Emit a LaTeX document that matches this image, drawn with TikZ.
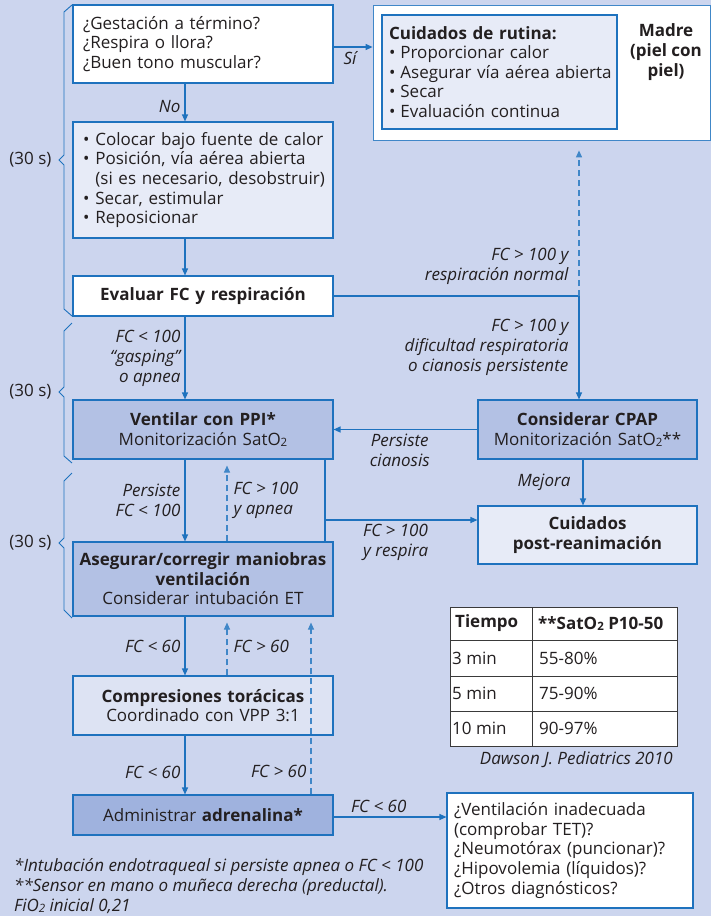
\documentclass[tikz,border=0pt]{standalone}
\usepackage{fontspec}
\setmainfont{Open Sans}
\usetikzlibrary{calc}
\usetikzlibrary{arrows.meta}

\definecolor{fondo}{HTML}{CCD5EE}
\definecolor{azul}{HTML}{1E72BE}
\definecolor{claro}{HTML}{E7EBF7}
\definecolor{claroB}{HTML}{DDE3F3}
\definecolor{medio}{HTML}{B3C1E4}
\definecolor{oscuro}{HTML}{9FB2DE}
\definecolor{texto}{HTML}{231F20}
\definecolor{gris}{HTML}{3A3A3A}

\newcommand{\bajo}[1]{\raisebox{-0.15ex}{\fontsize{11.5}{11.5}\selectfont #1}}
\newcommand{\punto}{\textbullet\hspace{6pt}}

\begin{document}
\begin{tikzpicture}[
    x=1pt, y=-1pt,
    font=\fontsize{17}{19.6}\selectfont, text=texto,
    % --- estilos ---
    caja/.style = {draw=azul, line width=1.1pt, fill=#1, inner xsep=10pt, inner ysep=0pt, text width=240pt, align=center}, % cajas del algoritmo
    flecha/.style = {color=azul, line width=1.2pt, -{Triangle[length=7pt,width=6pt]}}, % conector con punta
    retorno/.style = {flecha, color=azul!85, line width=1.1pt, dash pattern=on 6pt off 4pt, shorten >=6pt}, % conector discontinuo
    linea/.style = {color=azul, line width=1.2pt},                                      % conector sin punta
    etiq/.style = {font=\fontsize{17}{20}\selectfont\itshape, text=texto, align=right, inner sep=4pt}, % rotulos de conectores
    llave/.style = {color=azul, line width=0.9pt},                                      % llaves de (30 s)
    tabla/.style = {draw=gris, line width=1pt}
    ]

    % --- Fondo y margenes ---
    \useasboundingbox (0,0) rectangle (711,916);
    \fill[fondo] (0,0) rectangle (711,916);

    % --- Ejes verticales de los conectores ---
    \coordinate (ejeP) at (185,0);   % eje principal
    \coordinate (ejeR) at (227,0);   % retorno corto
    \coordinate (ejeL) at (311,0);   % retorno largo
    \coordinate (ejeV) at (325,0);   % salida de ventilar
    \coordinate (ejeD) at (579,0);   % eje derecho
    \coordinate (ejeC) at (583,0);   % salida de CPAP

    % --- Columna izquierda ---
    \node[caja=white, minimum height=78pt, align=left] (gest) at (203,44)
        {¿Gestación a término?\\¿Respira o llora?\\¿Buen tono muscular?};
    \node[caja=claro, minimum height=116pt, align=left] (colocar) at (203,180)
        {\mbox{\punto Colocar bajo fuente de calor}\\
         \mbox{\punto Posición, vía aérea abierta}\\
         \mbox{\phantom{\punto}(si es necesario, desobstruir)}\\
         \punto Secar, estimular\\
         \punto Reposicionar};
    \node[caja=white, minimum height=40pt] (evaluar) at (203,296) {\textbf{Evaluar FC y respiración}};
    \node[caja=medio, minimum height=59pt] (ventilar) at (203,429.5)
        {\textbf{Ventilar con PPI*}\\Monitorización SatO\bajo{2}};
    \node[caja=medio, minimum height=74pt, text width=256pt, inner xsep=2pt] (asegurar) at (203,579)
        {\textbf{Asegurar/corregir maniobras}\\\textbf{ventilación}\\Considerar intubación ET};
    \node[caja=claroB, minimum height=59pt] (compresiones) at (203,705.5)
        {\textbf{Compresiones torácicas}\\Coordinado con VPP 3:1};
    \node[caja=oscuro, minimum height=40pt] (adrenalina) at (203,815) {Administrar \textbf{adrenalina*}};

    % --- Columna derecha ---
    \node[draw=azul!85, line width=0.8pt, fill=white, minimum width=337pt, minimum height=135pt] (madre) at (541.5,72.5) {};
    \node[caja=claro, text width=221pt, inner xsep=7pt, minimum height=114pt, align=left] (rutina) at (499.5,72)
        {\textbf{Cuidados de rutina:}\\
         \mbox{\textbullet\hspace{5pt}Proporcionar calor}\\
         \mbox{\textbullet\hspace{5pt}Asegurar vía aérea abierta}\\
         \mbox{\textbullet\hspace{5pt}Secar}\\
         \mbox{\textbullet\hspace{5pt}Evaluación continua}};
    \node[align=center] (madretxt) at (666,52) {\textbf{Madre}\\\textbf{(piel con}\\\textbf{piel)}};
    \node[caja=medio, text width=213pt, inner xsep=3pt, minimum height=59pt] (cpap) at (587.5,429.5)
        {\textbf{Considerar CPAP}\\Monitorización SatO\bajo{2}**};
    \node[caja=claro, text width=199pt, minimum height=58pt] (post) at (587.5,535)
        {\textbf{Cuidados}\\\textbf{post-reanimación}};
    \node[caja=white, text width=232pt, inner xsep=7pt, minimum height=115pt, align=left] (preg) at (570,850.5)
        {¿Ventilación inadecuada\\(comprobar TET)?\\¿Neumotórax (puncionar)?\\¿Hipovolemia (líquidos)?\\¿Otros diagnósticos?};

    % --- Tabla de SatO2 ---
    \draw[tabla, fill=white] (450,607) rectangle (677,746);
    \draw[tabla] (532,607) -- (532,746);
    \foreach \y in {640,676,711}
        \draw[tabla] (450,\y) -- (677,\y);
    \node[anchor=west, inner sep=0pt] (t00) at (455,623.5) {\textbf{Tiempo}};
    \node[anchor=west, inner sep=0pt] (t01) at (538,623.5) {\textbf{**SatO\bajo{2} P10-50}};
    \foreach \t/\v/\y [count=\i] in {3 min/55-80\%/658, 5 min/75-90\%/693.5, 10 min/90-97\%/728.5} {
        \node[anchor=west, inner sep=0pt] (t\i0) at (452,\y) {\t};
        \node[anchor=west, inner sep=0pt] (t\i1) at (539,\y) {\v};
    }
    \node[etiq, anchor=east] (fuente) at (677,760) {Dawson J. Pediatrics 2010};

    % --- Llaves de (30 s) ---
    \draw[llave] (72,5) -- (64,12) -- (64,155) -- (59,160) -- (64,165) -- (64,309) -- (72,316);
    \draw[llave] (72,323) -- (64,331) -- (64,387) -- (59,392) -- (64,397) -- (64,456) -- (72,463);
    \draw[llave] (72,473) -- (64,481) -- (64,538) -- (59,543) -- (64,548) -- (64,610) -- (72,618);
    \node[anchor=east] (seg1) at (55,160) {(30 s)};
    \node[anchor=east] (seg2) at (55,392) {(30 s)};
    \node[anchor=east] (seg3) at (55,543) {(30 s)};

    % --- Conectores de la columna izquierda ---
    \draw[flecha] (gest.south -| ejeP) -- node[etiq, left, pos=0.6] {No} (colocar.north -| ejeP);
    \draw[flecha] (colocar.south -| ejeP) -- (evaluar.north -| ejeP);
    \draw[flecha] (evaluar.south -| ejeP) -- node[etiq, left] {FC < 100\\“gasping”\\o apnea} (ventilar.north -| ejeP);
    \draw[flecha] (ventilar.south -| ejeP) -- node[etiq, left] {Persiste\\FC < 100} (asegurar.north -| ejeP);
    \draw[retorno] (asegurar.north -| ejeR) -- node[etiq, right, align=left, xshift=2pt] {FC > 100\\y apnea} (ventilar.south -| ejeR);
    \draw[flecha] (asegurar.south -| ejeP) -- node[etiq, left] {FC < 60} (compresiones.north -| ejeP);
    \draw[retorno] (compresiones.north -| ejeR) -- node[etiq, right, xshift=2pt] {FC > 60} (asegurar.south -| ejeR);
    \draw[flecha] (compresiones.south -| ejeP) -- node[etiq, left, pos=0.62] {FC < 60} (adrenalina.north -| ejeP);
    \draw[retorno] (adrenalina.north -| ejeL) -- node[etiq, left, pos=0.13] {FC > 60} (asegurar.south -| ejeL);
    \draw[flecha] (adrenalina.east |- 0,817) -- node[etiq, above, pos=0.4] {FC < 60} (preg.west |- 0,817);

    % --- Conectores hacia la derecha ---
    \draw[flecha] (gest.east |- 0,47) -- node[etiq, below, xshift=-3pt] {Sí} (madre.west |- 0,47);
    \coordinate (cruce) at (evaluar.east -| ejeD);
    \draw[linea] (evaluar.east) -- (cruce);
    \draw[retorno, shorten >=10pt] (cruce) -- node[etiq, left, pos=0.19, xshift=-6pt] {FC > 100 y\\respiración normal} (madre.south -| ejeD);
    \draw[flecha] (cruce) -- node[etiq, left, xshift=-6pt] {FC > 100 y\\dificultad respiratoria\\o cianosis persistente} (cpap.north -| ejeD);
    \draw[flecha] (cpap.west) -- node[etiq, below, align=center, pos=0.54] {Persiste\\cianosis} (ventilar.east);
    \draw[flecha] (cpap.south -| ejeC) -- node[etiq, left, xshift=-8pt] {Mejora} (post.north -| ejeC);
    \draw[linea] (ventilar.south -| ejeV) -- (asegurar.north -| ejeV);
    \coordinate (rama) at (325,520);
    \draw[flecha] (rama) -- node[etiq, below right, align=left, pos=0.22] {FC > 100\\y respira} (rama -| post.west);

    % --- Notas ---
    \node[anchor=west, inner sep=0pt, align=left, font=\fontsize{17}{19.6}\selectfont\itshape] (notas) at (14,886)
        {*Intubación endotraqueal si persiste apnea o FC < 100\\**Sensor en mano o muñeca derecha (preductal).\\FiO\bajo{2} inicial 0,21};
\end{tikzpicture}
\end{document}
